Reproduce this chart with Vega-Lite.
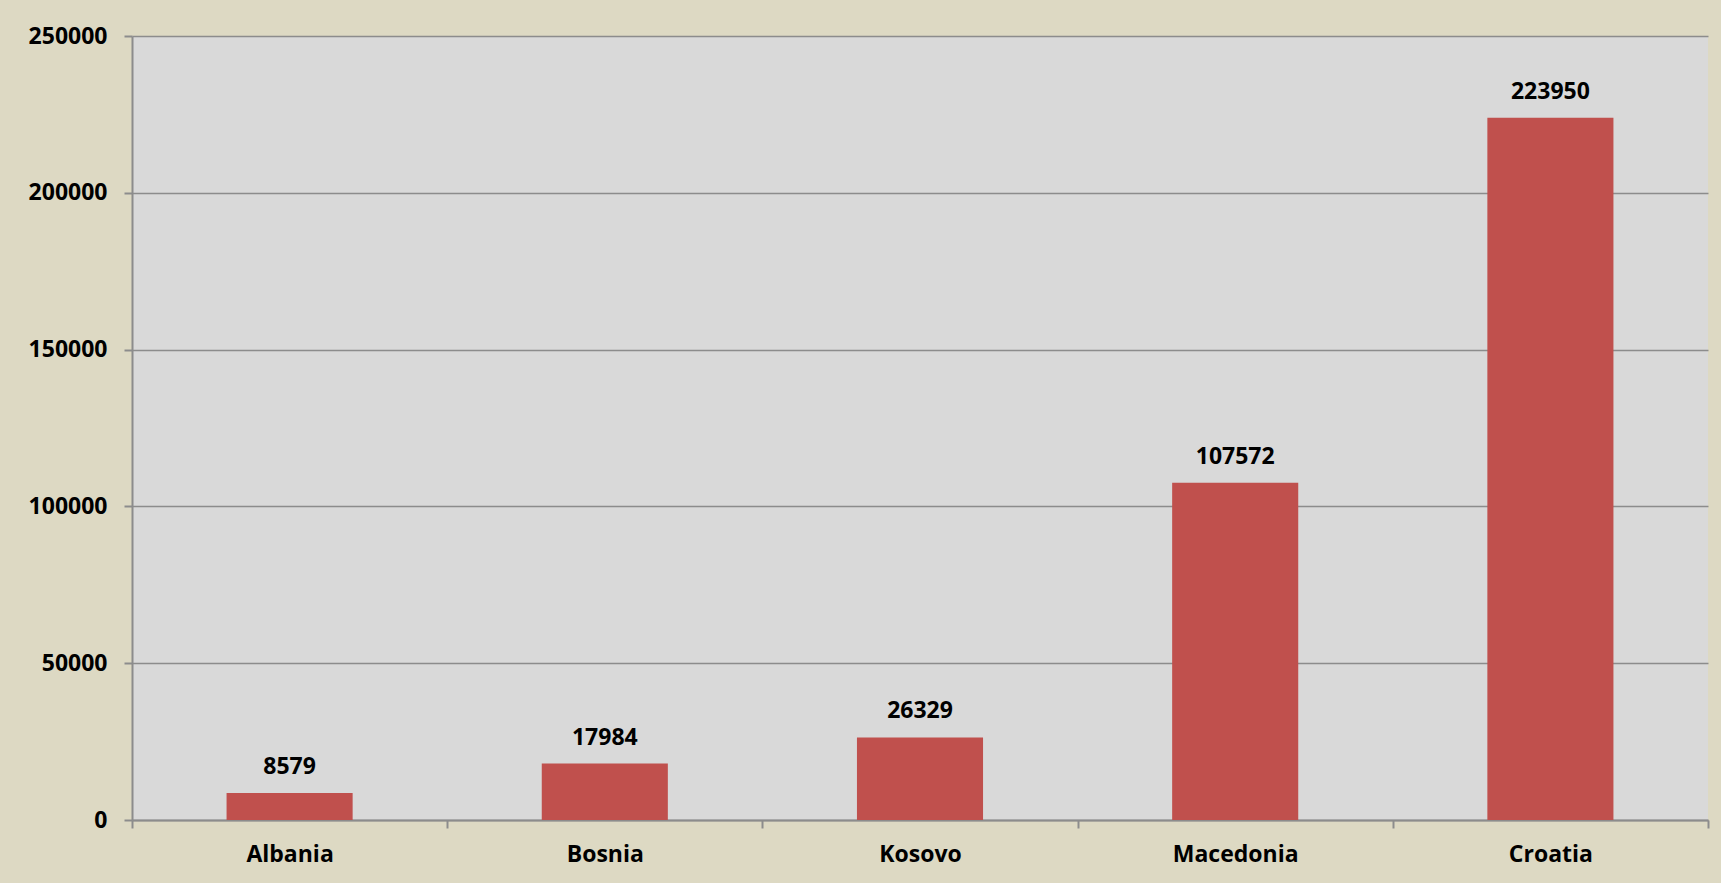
{
  "$schema": "https://vega.github.io/schema/vega-lite/v6.json",
  "width": 1576,
  "height": 784,
  "autosize": {"type": "none"},
  "padding": {"left": 132, "top": 36, "right": 13, "bottom": 63},
  "background": "#ddd9c3",
  "config": {
    "view": {"fill": "#d9d9d9", "stroke": null},
    "font": "Open Sans"
  },
  "data": {
    "values": [
      {"country": "Albania", "value": 8579},
      {"country": "Bosnia", "value": 17984},
      {"country": "Kosovo", "value": 26329},
      {"country": "Macedonia", "value": 107572},
      {"country": "Croatia", "value": 223950}
    ]
  },
  "encoding": {
    "x": {
      "field": "country",
      "type": "nominal",
      "sort": null,
      "scale": {"paddingInner": 0, "paddingOuter": 0},
      "axis": {
        "title": null,
        "labelAngle": 0,
        "labelFont": "Open Sans",
        "labelFontWeight": "bold",
        "labelFontSize": 23,
        "labelColor": "#000000",
        "labelPadding": 15,
        "tickBand": "extent",
        "tickSize": 8,
        "tickWidth": 2,
        "tickColor": "#8c8c8c",
        "domainColor": "#8c8c8c",
        "domainWidth": 2
      }
    },
    "y": {
      "field": "value",
      "type": "quantitative",
      "scale": {"domain": [0, 250000], "nice": false},
      "axis": {
        "title": null,
        "values": [0, 50000, 100000, 150000, 200000, 250000],
        "format": "d",
        "labelFont": "Open Sans",
        "labelFontWeight": "bold",
        "labelFontSize": 23,
        "labelColor": "#000000",
        "labelPadding": 17,
        "tickSize": 8,
        "tickWidth": 2,
        "tickColor": "#8c8c8c",
        "domainColor": "#8c8c8c",
        "domainWidth": 2,
        "grid": true,
        "gridColor": "#8c8c8c",
        "gridWidth": 1.3
      }
    }
  },
  "layer": [
    {"mark": {"type": "bar", "color": "#c0504d", "width": {"band": 0.4}}},
    {
      "mark": {
        "type": "text",
        "baseline": "alphabetic",
        "dy": -19,
        "font": "Open Sans",
        "fontWeight": "bold",
        "fontSize": 23,
        "color": "#000000"
      },
      "encoding": {"text": {"field": "value", "type": "quantitative", "format": "d"}}
    }
  ]
}
